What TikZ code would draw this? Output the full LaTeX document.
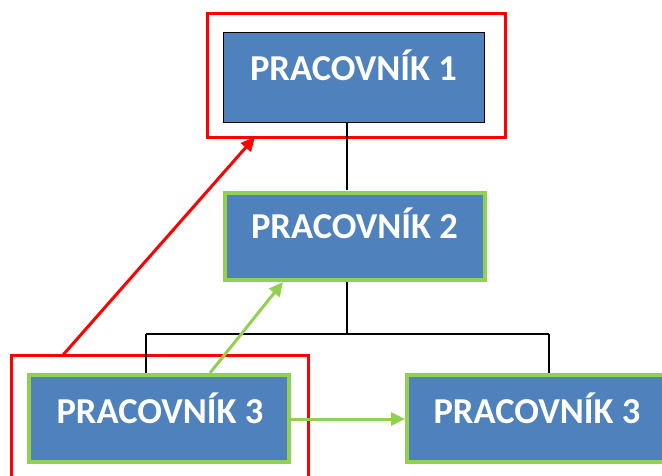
\documentclass[tikz,border=0pt]{standalone}
\usepackage{fontspec}
\setmainfont{Carlito}
\usetikzlibrary{arrows.meta,calc}
\definecolor{boxblue}{HTML}{4F81BD}
\definecolor{grn}{HTML}{92D050}
\definecolor{rd}{HTML}{FF0000}
\begin{document}
\begin{tikzpicture}[x=1pt,y=-1pt,
  box/.style={draw=black,line width=1pt,fill=boxblue,minimum width=261pt,minimum height=90pt,inner sep=0pt},
  gbox/.style={draw=grn,line width=4pt,fill=boxblue,minimum width=260pt,minimum height=87pt,inner sep=0pt},
  lbl/.style={text=white,font=\fontsize{36.5}{40}\selectfont\bfseries,inner sep=0pt},
  frame/.style={draw=rd,line width=3pt,inner sep=0pt},
  tree/.style={draw=black,line width=1.2pt},
  garrow/.style={draw=grn,line width=3pt,-{Triangle[length=14pt,width=13pt]}},
  rarrow/.style={draw=rd,line width=3pt,-{Triangle[length=14pt,width=13pt]}}]
\useasboundingbox (0,0) rectangle (662,475);
\clip (0,0) rectangle (662,475);
% red frames
\node[frame,minimum width=298pt,minimum height=124pt] (fr1) at (356,75) {};
\node[frame,minimum width=297pt,minimum height=140pt] (fr2) at (159.5,425) {};
% tree connectors
\coordinate (j) at (347,334);
\coordinate (jl) at (146,334);
\coordinate (jr) at (549,334);
\coordinate (t1) at (347,122);
\coordinate (t2) at (347,190);
\coordinate (t3) at (347,282);
\draw[tree] (t1) -- (t2);
\draw[tree] (t3) -- (j);
\draw[tree] (jl) -- (jr);
\draw[tree] (jl) -- (146,375);
\draw[tree] (jr) -- (549,375);
% boxes
\node[box] (b1) at (353.5,77) {};
\node[lbl] (l1) at (353.5,65) {PRACOVNÍK 1};
\node[gbox] (b2) at (354.5,236) {};
\node[lbl] (l2) at (354.5,223) {PRACOVNÍK 2};
\node[gbox] (b3) at (159,418) {};
\node[lbl] (l3) at (160,408) {PRACOVNÍK 3};
\node[gbox] (b4) at (537,418) {};
\node[lbl] (l4) at (537,408) {PRACOVNÍK 3};
% arrows
\coordinate (ga) at (210,373);
\coordinate (gb) at (283,282);
\draw[garrow] (ga) -- (gb);
\draw[garrow] (b3.east |- 0,419) -- (b4.west |- 0,419);
\coordinate (ra) at (63,355);
\coordinate (rb) at (255,137);
\draw[rarrow] (ra) -- (rb);
\end{tikzpicture}
\end{document}
